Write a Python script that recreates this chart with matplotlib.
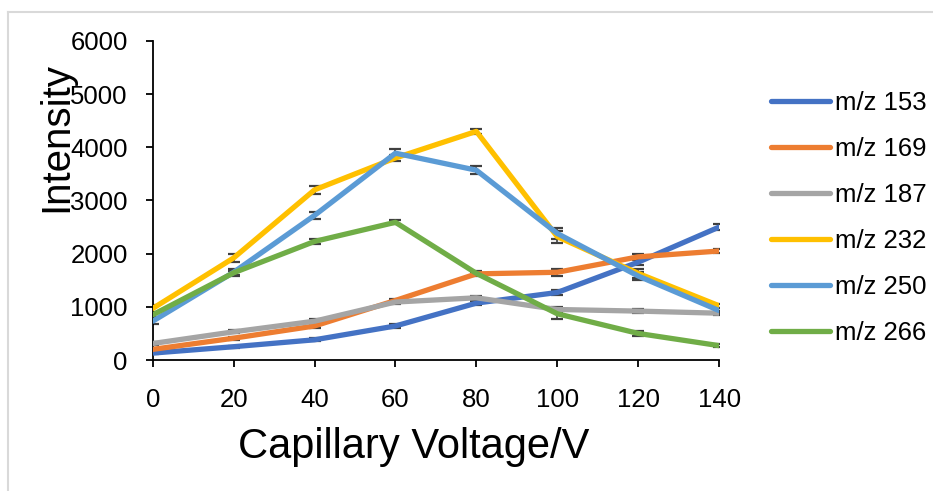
import matplotlib.pyplot as plt
from matplotlib.lines import Line2D

plt.rcParams['font.family'] = ['Liberation Sans', 'DejaVu Sans']

voltage = [0, 20, 40, 60, 80, 100, 120, 140]

mz153 = [130, 250, 380, 640, 1070, 1270, 1840, 2500]
mz169 = [200, 410, 640, 1120, 1620, 1650, 1940, 2050]
mz187 = [310, 530, 730, 1090, 1170, 950, 920, 880]
mz232 = [970, 1920, 3200, 3800, 4300, 2320, 1630, 1020]
mz250 = [730, 1650, 2720, 3890, 3570, 2380, 1580, 930]
mz266 = [850, 1640, 2230, 2590, 1630, 870, 500, 270]

err153 = [20, 20, 30, 30, 40, 50, 60, 50]
err169 = [20, 30, 30, 30, 40, 70, 60, 40]
err187 = [30, 30, 40, 40, 40, 40, 40, 40]
err232 = [60, 70, 70, 60, 40, 110, 80, 40]
err250 = [60, 70, 70, 80, 70, 110, 80, 40]
err266 = [40, 40, 40, 40, 40, 100, 40, 30]

labels = ['m/z 153', 'm/z 169', 'm/z 187', 'm/z 232', 'm/z 250', 'm/z 266']
series = [mz153, mz169, mz187, mz232, mz250, mz266]
errors = [err153, err169, err187, err232, err250, err266]
colors = ['#4472C4', '#ED7D31', '#A5A5A5', '#FFC000', '#5B9BD5', '#70AD47']

fig = plt.figure(figsize=(9.33, 4.91), dpi=100)
ax = fig.add_axes([0.1637, 0.2668, 0.607, 0.6497])

for y, e, c, lab in zip(series, errors, colors, labels):
    ax.errorbar(voltage, y, yerr=e, fmt='none', ecolor='#404040', elinewidth=1.2,
                capsize=4.5, capthick=1.6, zorder=2)
    ax.plot(voltage, y, color=c, lw=3.8, label=lab, solid_capstyle='round', zorder=3)

ax.set_xlim(0, 140)
ax.set_ylim(0, 6000)
ax.set_xticks(voltage)
ax.set_yticks(range(0, 6001, 1000))
ax.spines['top'].set_visible(False)
ax.spines['right'].set_visible(False)
ax.spines['left'].set_linewidth(1.3)
ax.spines['bottom'].set_linewidth(1.3)
ax.tick_params(axis='both', direction='out', length=5, width=1.3, labelsize=18.5)
ax.tick_params(axis='y', pad=13)
ax.tick_params(axis='x', pad=15)

ax.set_xlabel('Capillary Voltage/V', fontsize=30)
ax.set_ylabel('Intensity', fontsize=29)
ax.yaxis.set_label_coords(-0.137, 0.70)
ax.xaxis.set_label_coords(0.46, -0.21)

ax.legend(loc='center left', bbox_to_anchor=(1.05, 0.445), frameon=False, fontsize=18.5,
          handlelength=2.3, handletextpad=0.2, labelspacing=0.85)

# light frame around the chart
fig.add_artist(Line2D([8 / 933, 8 / 933], [0, 1 - 12 / 491], color='#d9d9d9', lw=1.5))
fig.add_artist(Line2D([8 / 933, 1], [1 - 12 / 491, 1 - 12 / 491], color='#d9d9d9', lw=1.5))

fig.savefig('out.png', dpi=100)
